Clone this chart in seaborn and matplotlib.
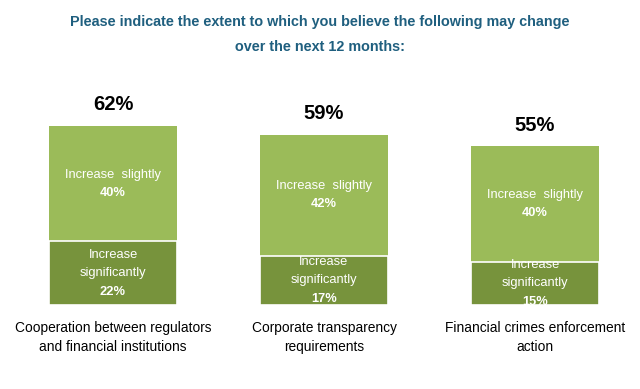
import matplotlib
matplotlib.use("Agg")
import matplotlib.pyplot as plt
import seaborn as sns
import pandas as pd

categories = ["Cooperation between regulators\nand financial institutions",
              "Corporate transparency\nrequirements",
              "Financial crimes enforcement\naction"]
slightly = [40, 42, 40]
significantly = [22, 17, 15]
totals = [62, 59, 55]

sns.set_theme(style="white")
plt.rcParams['font.family'] = ['Liberation Sans', 'DejaVu Sans']

df = pd.DataFrame({"category": categories, "sig": significantly,
                   "total": [a + b for a, b in zip(slightly, significantly)],
                   "sl": slightly, "label": totals})

fig = plt.figure(figsize=(6.4, 3.89), dpi=100)
ax = fig.add_axes([7.5 / 640, 84 / 389, 633 / 640, 231 / 389])

light = "#9BBB59"
dark = "#77933C"
sns.barplot(data=df, x="category", y="total", color=light, saturation=1,
            width=0.607, ax=ax, edgecolor="none")
sns.barplot(data=df, x="category", y="sig", color=dark, saturation=1,
            width=0.607, ax=ax, edgecolor="white", linewidth=1.2)
ax.set_ylim(0, 80)
ax.set_xlim(-0.5, 2.5)
ax.axis("off")

pt = 72 / 100  # points per pixel
fs_in = 9.3
for i in range(len(df)):
    row = df.iloc[i]
    # light segment text
    yc = row["sig"] + row["sl"] / 2
    ax.annotate("Increase  slightly", (i, yc), xytext=(0, 9 * pt),
                textcoords="offset points", ha="center", va="center",
                color="white", fontsize=fs_in)
    ax.annotate(f"{row['sl']}%", (i, yc), xytext=(0, -9 * pt),
                textcoords="offset points", ha="center", va="center",
                color="white", fontsize=fs_in, fontweight="bold")
    # dark segment text
    yd = row["sig"] / 2
    for off, txt, w in [(18.5, "Increase", "normal"), (0, "significantly", "normal"),
                        (-19, f"{row['sig']}%", "bold")]:
        t = ax.annotate(txt, (i, yd), xytext=(0, off * pt), textcoords="offset points",
                        ha="center", va="center", color="white", fontsize=fs_in,
                        fontweight=w, annotation_clip=False)
        t.set_clip_on(True)
        t.set_clip_box(ax.bbox)
    # totals
    ax.annotate(f"{row['label']}%", (i, row["total"]), xytext=(0, 21 * pt),
                textcoords="offset points", ha="center", va="center",
                fontsize=14.5, fontweight="bold", color="black",
                annotation_clip=False)
    # category label
    ax.annotate(row["category"], (i, 0), xytext=(0, -16 * pt), textcoords="offset points",
                ha="center", va="top", fontsize=9.9, color="black",
                linespacing=1.45, annotation_clip=False)

fig.text(0.5, 1 - 22 / 389,
         "Please indicate the extent to which you believe the following may change",
         ha="center", va="center", fontsize=10.4, fontweight="bold", color="#1F5F7F")
fig.text(0.5, 1 - 47 / 389, "over the next 12 months:",
         ha="center", va="center", fontsize=10.4, fontweight="bold", color="#1F5F7F")

fig.savefig("out.png", dpi=100)
